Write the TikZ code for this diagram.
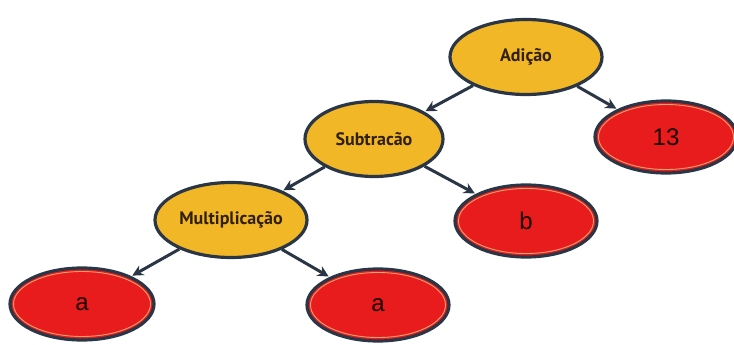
\documentclass[tikz,border=0pt]{standalone}
\usepackage{fontspec}
\setmainfont{Liberation Sans}
\newfontfamily\opfont{PT Sans}
\definecolor{edge}{HTML}{2A3645}
\definecolor{gold}{HTML}{F2B726}
\definecolor{redfill}{HTML}{E81C1C}
\definecolor{salmon}{HTML}{F4A070}
\usetikzlibrary{arrows.meta,shapes.geometric}
\tikzset{
  opnode/.style={ellipse, draw=edge, line width=3.2pt, fill=gold, inner sep=0pt,
    minimum width=#1, minimum height=75pt, font=\opfont\bfseries\fontsize{18}{21}\selectfont, text=black!75!brown},
  leafnode/.style={ellipse, draw=edge, line width=3.2pt, fill=redfill, inner sep=0pt,
    minimum width=142pt, minimum height=72pt, font=\fontsize{24}{27}\selectfont, text=black!90!red},
  conn/.style={draw=edge, line width=3pt, -{Stealth[length=11pt,width=11pt]}, shorten >=1pt},
  inring/.style={draw=salmon, line width=0.9pt}
}
\begin{document}
\begin{tikzpicture}[x=1pt,y=-1pt]
\useasboundingbox (0,0) rectangle (734,345);
\node[opnode=152pt] (add) at (526,57) {Adição};
\node[opnode=138pt] (sub) at (374,139) {Subtracão};
\node[opnode=152pt] (mul) at (231,220) {Multiplicação};
\node[leafnode] (n13) at (666,137) {13};
\node[leafnode] (b) at (526,221) {b};
\node[leafnode, minimum width=144pt] (a1) at (82,304) {a};
\node[leafnode] (a2) at (378,305) {a};
\foreach \n/\w in {n13/142,b/142,a1/144,a2/142}{
  \draw[inring] (\n.center) ellipse ({\w/2-3.5pt} and 32.5pt);
}
\draw[conn] (add) -- (sub);
\draw[conn] (add) -- (n13);
\draw[conn] (sub) -- (mul);
\draw[conn] (sub) -- (b);
\draw[conn] (mul) -- (a1);
\draw[conn] (mul) -- (a2);
\end{tikzpicture}
\end{document}
